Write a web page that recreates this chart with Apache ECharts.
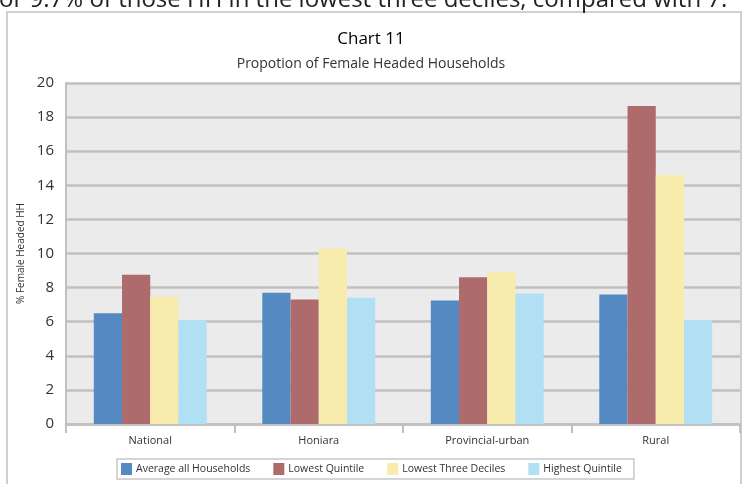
<!DOCTYPE html>
<html>
<head>
<meta charset="utf-8">
<script src="https://cdn.jsdelivr.net/npm/echarts@6/dist/echarts.min.js"></script>
<style>
  html, body { margin: 0; padding: 0; background: #ffffff; }
  #chart { width: 742px; height: 484px; }
</style>
</head>
<body>
<div id="chart"></div>
<script>
// Share of female-headed households by area and income group (%)
const categories = ['National', 'Honiara', 'Provincial-urban', 'Rural'];
const averageAll = [6.5, 7.7, 7.25, 7.6];
const lowestQuintile = [8.75, 7.3, 8.6, 18.65];
const lowestThreeDeciles = [7.45, 10.3, 8.9, 14.6];
const highestQuintile = [6.1, 7.4, 7.65, 6.1];
const seriesNames = ['Average all Households', 'Lowest Quintile', 'Lowest Three Deciles', 'Highest Quintile'];
const seriesColors = ['#5589c2', '#ae6b6b', '#f8ecac', '#b1dff4'];

const FONT = '"Open Sans", "Noto Sans", sans-serif';
const chart = echarts.init(document.getElementById('chart'), null, { renderer: 'canvas' });

const seriesData = [averageAll, lowestQuintile, lowestThreeDeciles, highestQuintile];

chart.setOption({
  backgroundColor: '#ffffff',
  animation: false,
  color: seriesColors,
  title: [
    {
      text: 'Chart 11',
      left: 'center',
      top: 26,
      textStyle: { fontFamily: FONT, fontSize: 17, fontWeight: 'normal', color: '#000000' }
    },
    {
      text: 'Propotion of Female Headed Households',
      left: 'center',
      top: 52,
      textStyle: { fontFamily: FONT, fontSize: 14, fontWeight: 'normal', color: '#333333' }
    }
  ],
  graphic: [
    {
      type: 'text',
      left: -9,
      top: -12,
      silent: true,
      style: {
        text: 'for 9.7% of those HH in the lowest three deciles, compared with 7.',
        font: '24px "Open Sans", sans-serif',
        fill: '#222222'
      }
    },
    {
      type: 'rect',
      silent: true,
      z: -1,
      shape: { x: 7, y: 12, width: 734, height: 500 },
      style: { fill: 'none', stroke: '#cfcfcf', lineWidth: 2 }
    }
  ],
  legend: {
    data: seriesNames,
    bottom: 5,
    left: 117,
    itemWidth: 11,
    itemHeight: 12,
    itemGap: 23,
    padding: [4, 12, 4, 4],
    borderColor: '#c8c8c8',
    borderWidth: 1.5,
    icon: 'rect',
    textStyle: { fontFamily: FONT, fontSize: 10.5, color: '#333333', padding: [0, 0, 0, -1] }
  },
  grid: {
    left: 66,
    right: 2,
    top: 83,
    bottom: 60,
    show: true,
    backgroundColor: '#ebebeb',
    borderWidth: 0
  },
  xAxis: {
    type: 'category',
    data: categories,
    axisLine: { lineStyle: { color: '#c0c0c0', width: 2.5 } },
    axisTick: { show: true, length: 9, lineStyle: { color: '#c0c0c0', width: 2 } },
    axisLabel: { fontFamily: FONT, fontSize: 11, color: '#333333', margin: 11 }
  },
  yAxis: {
    type: 'value',
    min: 0,
    max: 20,
    interval: 2,
    name: '% Female Headed HH',
    nameLocation: 'middle',
    nameGap: 36,
    nameTextStyle: { fontFamily: FONT, fontSize: 10, color: '#333333' },
    axisLine: { show: true, lineStyle: { color: '#c0c0c0', width: 2 } },
    axisTick: { show: false },
    axisLabel: { fontFamily: FONT, fontSize: 15, color: '#333333', margin: 12 },
    splitLine: { lineStyle: { color: '#c0c0c0', width: 2.5 } }
  },
  series: seriesNames.map((name, i) => ({
    name: name,
    type: 'bar',
    data: seriesData[i],
    barGap: '0%',
    barCategoryGap: '33%',
    itemStyle: { color: seriesColors[i] }
  }))
});
</script>
</body>
</html>
